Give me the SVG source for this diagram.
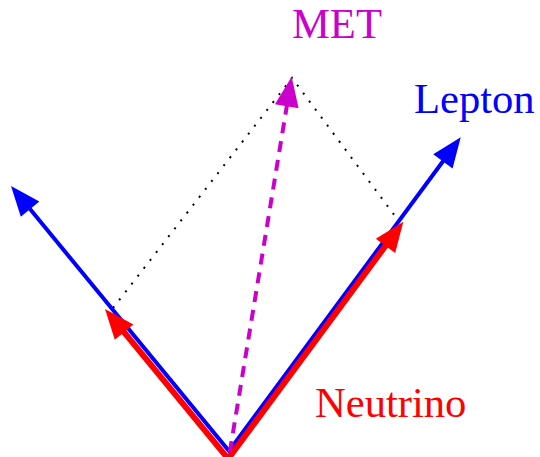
<svg xmlns="http://www.w3.org/2000/svg" width="540" height="457" viewBox="0 0 540 457">
<style>
  .lbl { font-family: "Liberation Serif", "Times New Roman", serif; font-size: 42.6px; }
  .blue { fill: none; stroke: #0000ff; stroke-width: 4; stroke-linejoin: miter; }
  .red { fill: none; stroke: #ff0000; stroke-width: 6; stroke-linejoin: miter; }
  .met { fill: none; stroke: #cc00cc; stroke-width: 4; stroke-dasharray: 11 8; }
  .dot { fill: none; stroke: #000000; stroke-width: 2; stroke-dasharray: 2 8; }
</style>
<defs>
  <marker id="hb" markerUnits="userSpaceOnUse" markerWidth="32" markerHeight="26" viewBox="0 -13 32 26" refX="2" refY="0" orient="auto-start-reverse" overflow="visible">
    <path d="M0,-12 L30,0 L0,12 z" fill="#0000ff"/>
  </marker>
  <marker id="hr" markerUnits="userSpaceOnUse" markerWidth="32" markerHeight="26" viewBox="0 -13 32 26" refX="2" refY="0" orient="auto-start-reverse" overflow="visible">
    <path d="M0,-12 L30,0 L0,12 z" fill="#ff0000"/>
  </marker>
  <marker id="hm" markerUnits="userSpaceOnUse" markerWidth="32" markerHeight="26" viewBox="0 -13 32 26" refX="2" refY="0" orient="auto" overflow="visible">
    <path d="M0,-12 L30,0 L0,12 z" fill="#cc00cc"/>
  </marker>
</defs>
<g id="connectors">
  <polyline class="dot" points="113,308 292,78 398,220"/>
  <polyline id="lepton" class="blue" points="28.8,207.6 229,451 444.1,159.8" marker-start="url(#hb)" marker-end="url(#hb)"/>
  <polyline id="neutrino" class="red" points="122.8,330.6 228.2,458.8 386.7,244.2" marker-start="url(#hr)" marker-end="url(#hr)"/>
  <line id="met" class="met" x1="229.8" y1="452" x2="287.1" y2="104.3" marker-end="url(#hm)"/>
</g>
<g id="label-met"><text class="lbl" x="292" y="38" fill="#cc00cc">MET</text></g>
<g id="label-lepton"><text class="lbl" x="414" y="113" fill="#0000ff">Lepton</text></g>
<g id="label-neutrino"><text class="lbl" x="315" y="417" fill="#ff0000">Neutrino</text></g>
</svg>
